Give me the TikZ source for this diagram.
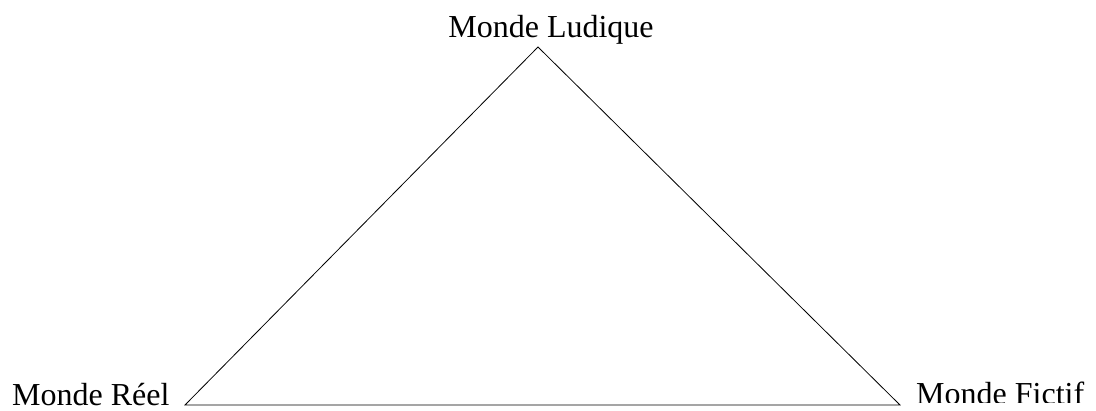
\documentclass[tikz,border=0pt]{standalone}
\usepackage{fontspec}
\setmainfont{Liberation Serif}
\begin{document}
\begin{tikzpicture}[x=1pt,y=-1pt,
  lbl/.style={inner sep=0pt,font=\fontsize{32}{38}\selectfont},
  edge/.style={draw=black,line width=0.8pt}]
\useasboundingbox (0,0) rectangle (1096,410);
\coordinate (top) at (538,47);
\coordinate (left) at (185,405);
\coordinate (right) at (900,405);
\draw[edge,line join=miter] (top) -- (left) -- (right) -- cycle;
\node[lbl,anchor=base] (ludique) at (551,37) {Monde Ludique};
\node[lbl,anchor=base west] (reel) at (12,405) {Monde Réel};
\begin{scope}
\clip (0,0) rectangle (1096,402);
\node[lbl,anchor=base west] (fictif) at (916,404) {Monde Fictif};
\end{scope}
\end{tikzpicture}
\end{document}
